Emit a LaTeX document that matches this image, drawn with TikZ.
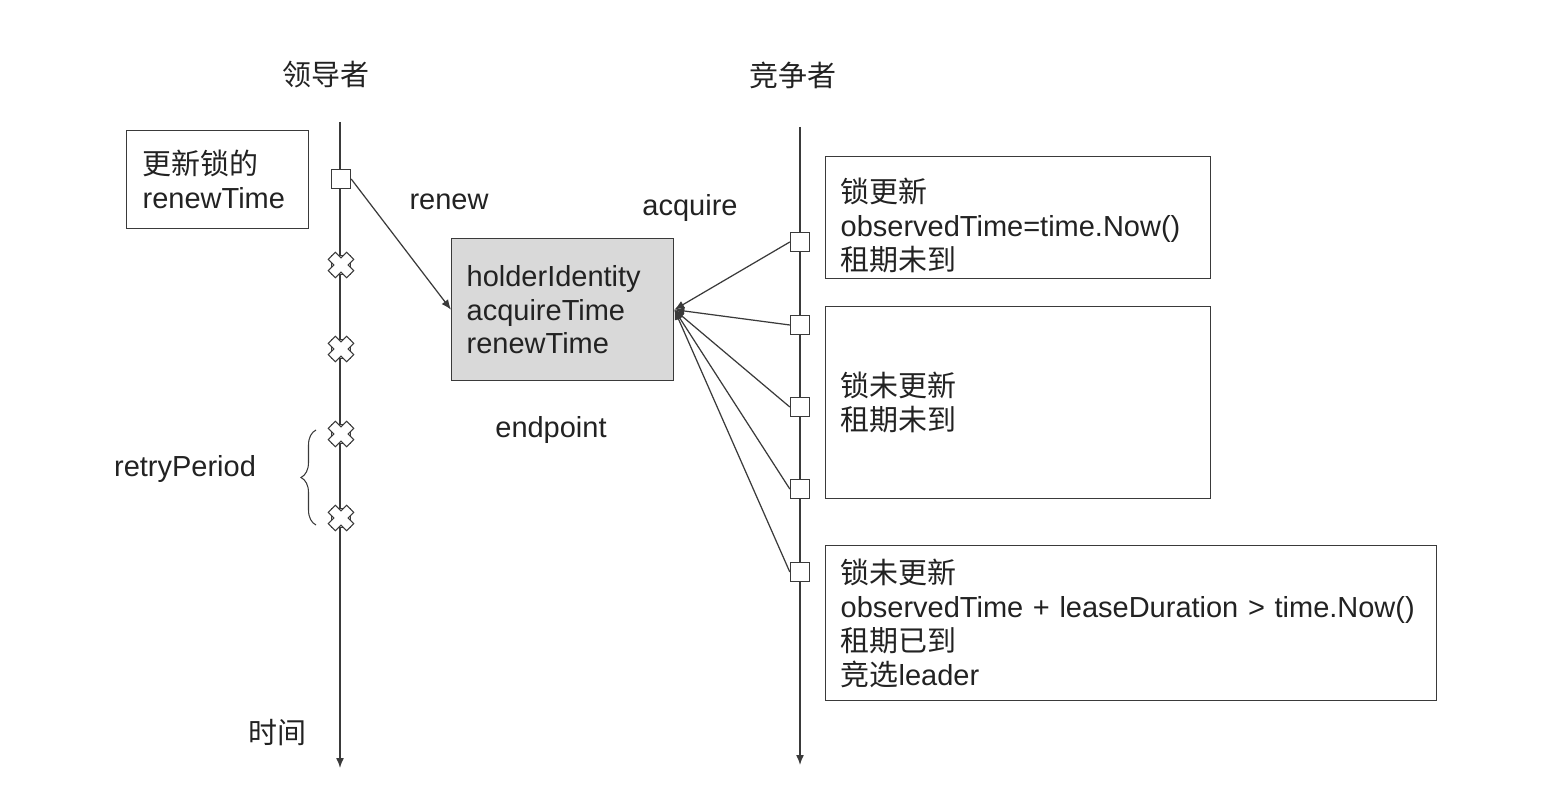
\documentclass[tikz,border=0pt]{standalone}
\usepackage{fontspec}
\setmainfont{Liberation Sans}
\newfontfamily\zhfont{Noto Sans CJK SC}
\newcommand{\zh}[1]{{\zhfont #1}}
\usetikzlibrary{arrows.meta,decorations.pathreplacing}
\definecolor{ink}{HTML}{222222}
\definecolor{edge}{HTML}{3A3A3A}
\definecolor{memfill}{HTML}{D9D9D9}
\tikzset{
  txt/.style={font=\fontsize{16.5}{19.3}\selectfont,text=ink,inner sep=0pt},
  note/.style={txt,draw=edge,line width=.8pt,align=left,anchor=north west},
  tick/.style={rectangle,draw=edge,fill=white,line width=.8pt,minimum size=.38cm,inner sep=0pt},
  timeline/.style={-{Latex[length=2mm,width=1.6mm]},edge,line width=.8pt},
  link/.style={-{Latex[length=2mm,width=1.6mm]},edge,line width=.7pt},
  xmark/.pic={\draw[edge,fill=white,line width=.6pt,rotate=45]
    (-5,-13)--(5,-13)--(5,-5)--(13,-5)--(13,5)--(5,5)--(5,13)--(-5,13)
    --(-5,5)--(-13,5)--(-13,-5)--(-5,-5)--cycle;},
}

\begin{document}
\begin{tikzpicture}[x=.02cm,y=-.02cm]
  \useasboundingbox (0,0) rectangle (1549,793);
  % the two time lines
  \node[txt] (lead) at (326,75) {\zh{领导者}};
  \node[txt] (cand) at (793,75) {\zh{竞争者}};
  \coordinate (ltop) at (340,122);
  \coordinate (lend) at (340,768);
  \coordinate (ctop) at (800,127);
  \coordinate (cend) at (800,765);
  \draw[timeline] (ltop) -- (lend);
  \draw[timeline] (ctop) -- (cend);
  \node[txt] (time) at (277,733) {\zh{时间}};

  % leader side
  \node[note,minimum width=3.64cm,minimum height=1.96cm,text width=3cm,inner xsep=.32cm]
    (lnote) at (126,130) {\zh{更新锁的}\\renewTime};
  \node[tick] (l0) at (341,179) {};
  \foreach \y in {265,349,434,518}{
    \node[tick] at (341,\y) {};
    \pic at (341,\y) {xmark};
  }
  \draw[edge,line width=.6pt,decorate,decoration={brace,amplitude=.3cm}]
    (316,525) -- (316,430);
  \node[txt] (retry) at (185,469) {retryPeriod};

  % the lock record
  \node[note,fill=memfill,minimum width=4.44cm,minimum height=2.84cm,text width=3.84cm,inner xsep=.3cm]
    (mem) at (451,238) {holderIdentity\\acquireTime\\renewTime};
  \node[txt] (renew) at (449,202) {renew};
  \node[txt] (acq) at (690,208) {acquire};
  \node[txt] (endp) at (551,430) {endpoint};
  \draw[link] (l0.east) -- (mem.west);

  % candidate side
  \foreach \y [count=\i] in {242,325,407,489,572}
    \node[tick] (c\i) at (800,\y) {};
  \foreach \i in {1,...,5}
    \draw[link] (c\i.west) -- (mem.east);

  \node[note,minimum width=7.7cm,minimum height=2.44cm,text width=7.1cm,inner xsep=.3cm]
    (n1) at (825,156) {\rule{0pt}{.8cm}\zh{锁更新}\\observedTime=time.Now()\\\zh{租期未到}};
  \node[note,minimum width=7.7cm,minimum height=3.84cm,text width=7.1cm,inner xsep=.3cm]
    (n2) at (825,306) {\zh{锁未更新}\\\zh{租期未到}};
  \node[note,minimum width=12.22cm,minimum height=3.1cm,text width=11.62cm,inner xsep=.3cm]
    (n3) at (825,545) {\zh{锁未更新}\\observedTime + leaseDuration > time.Now()\\\zh{租期已到}\\\zh{竞选}leader};
\end{tikzpicture}
\end{document}
